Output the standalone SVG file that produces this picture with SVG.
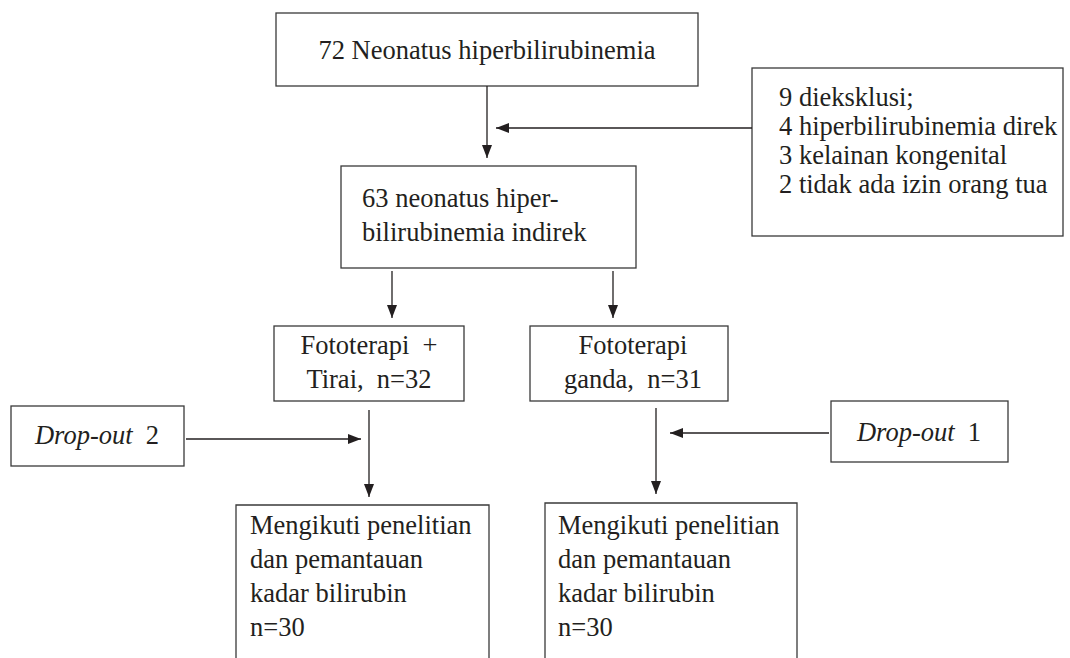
<svg xmlns="http://www.w3.org/2000/svg" width="1070" height="658" viewBox="0 0 1070 658">
  <style>
    .box { fill: #ffffff; stroke: #3a3a3a; stroke-width: 1.3; }
    .t { font-family: "Liberation Serif", "DejaVu Serif", serif; font-size: 26.5px; fill: #231f20; }
    .c { text-anchor: middle; }
    .i { font-style: italic; }
    .ln { fill: none; stroke: #231f20; stroke-width: 1.3; }
  </style>
  <defs>
    <marker id="ah" markerUnits="userSpaceOnUse" markerWidth="13" markerHeight="10" refX="13" refY="5" orient="auto">
      <path d="M0,0 L13,5 L0,10 z" fill="#231f20"/>
    </marker>
  </defs>
  <rect width="1070" height="658" fill="#ffffff"/>

  <g id="n1">
    <rect class="box" x="276" y="13" width="422" height="73"/>
    <text class="t c" x="487" y="59">72 Neonatus hiperbilirubinemia</text>
  </g>

  <g id="excl">
    <rect class="box" x="752" y="68" width="311" height="168"/>
    <text class="t" x="779" y="106">9 dieksklusi;</text>
    <text class="t" x="779" y="135">4 hiperbilirubinemia direk</text>
    <text class="t" x="779" y="164">3 kelainan kongenital</text>
    <text class="t" x="779" y="193">2 tidak ada izin orang tua</text>
  </g>

  <g id="n2">
    <rect class="box" x="341" y="166" width="295" height="102"/>
    <text class="t" x="362" y="207">63 neonatus hiper-</text>
    <text class="t" x="362" y="241">bilirubinemia indirek</text>
  </g>

  <g id="ft1">
    <rect class="box" x="274" y="326" width="190" height="75"/>
    <text class="t c" x="369" y="354" xml:space="preserve">Fototerapi  +</text>
    <text class="t c" x="369" y="388" xml:space="preserve">Tirai,  n=32</text>
  </g>

  <g id="ft2">
    <rect class="box" x="530" y="326" width="198" height="75"/>
    <text class="t c" x="633" y="354">Fototerapi</text>
    <text class="t c" x="633" y="388" xml:space="preserve">ganda,  n=31</text>
  </g>

  <g id="do2">
    <rect class="box" x="11" y="406" width="173" height="60"/>
    <text class="t c" x="97" y="444" xml:space="preserve"><tspan class="i">Drop-out</tspan>  2</text>
  </g>

  <g id="do1">
    <rect class="box" x="831" y="401" width="177" height="61"/>
    <text class="t c" x="919" y="441" xml:space="preserve"><tspan class="i">Drop-out</tspan>  1</text>
  </g>

  <g id="res1">
    <path class="box" d="M236,700 L236,505 L489,505 L489,700"/>
    <text class="t" x="250" y="534">Mengikuti penelitian</text>
    <text class="t" x="250" y="568">dan pemantauan</text>
    <text class="t" x="250" y="602">kadar bilirubin</text>
    <text class="t" x="250" y="636">n=30</text>
  </g>

  <g id="res2">
    <path class="box" d="M545,700 L545,503 L797,503 L797,700"/>
    <text class="t" x="558" y="534">Mengikuti penelitian</text>
    <text class="t" x="558" y="568">dan pemantauan</text>
    <text class="t" x="558" y="602">kadar bilirubin</text>
    <text class="t" x="558" y="636">n=30</text>
  </g>

  <g id="connectors">
    <line class="ln" x1="487" y1="86" x2="487" y2="158" marker-end="url(#ah)"/>
    <line class="ln" x1="752" y1="128" x2="496" y2="128" marker-end="url(#ah)"/>
    <line class="ln" x1="392" y1="271" x2="392" y2="318" marker-end="url(#ah)"/>
    <line class="ln" x1="613" y1="271" x2="613" y2="318" marker-end="url(#ah)"/>
    <line class="ln" x1="369" y1="410" x2="369" y2="497" marker-end="url(#ah)"/>
    <line class="ln" x1="186" y1="439" x2="361" y2="439" marker-end="url(#ah)"/>
    <line class="ln" x1="656" y1="408" x2="656" y2="494" marker-end="url(#ah)"/>
    <line class="ln" x1="829" y1="433" x2="670" y2="433" marker-end="url(#ah)"/>
  </g>
</svg>
